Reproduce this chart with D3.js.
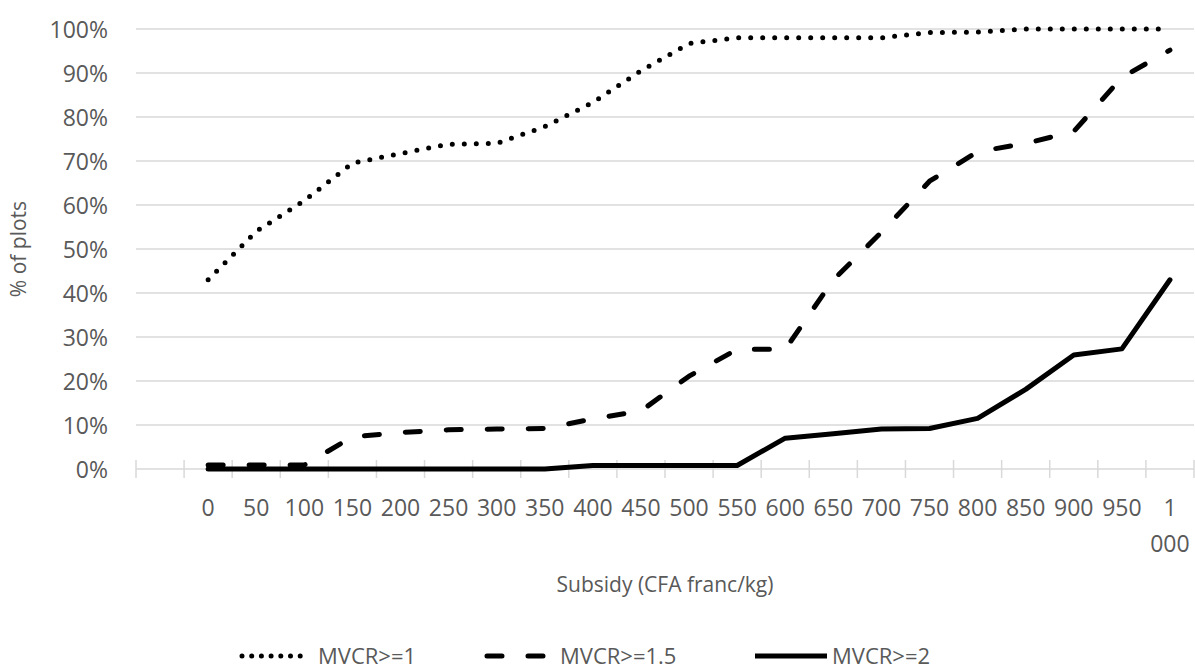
<!DOCTYPE html>
<html>
<head>
<meta charset="utf-8">
<script src="https://cdn.jsdelivr.net/npm/d3@7"></script>
<style>
  body { margin: 0; background: #fff; }
  svg text { font-family: "Open Sans", sans-serif; fill: #595959; }
</style>
</head>
<body>
<svg id="chart"></svg>
<script>
// categories on the x axis (first slot is an empty category, as in the original sheet)
let categories = ["", "0", "50", "100", "150", "200", "250", "300", "350", "400", "450", "500",
    "550", "600", "650", "700", "750", "800", "850", "900", "950", "1000"];
let tickLabels = ["", "0", "50", "100", "150", "200", "250", "300", "350", "400", "450", "500",
    "550", "600", "650", "700", "750", "800", "850", "900", "950", "1 000"];
let subsidy = ["0", "50", "100", "150", "200", "250", "300", "350", "400", "450", "500",
    "550", "600", "650", "700", "750", "800", "850", "900", "950", "1000"];

// % of plots
let mvcr1  = [43, 54, 61, 69.5, 71.7, 73.8, 74, 77.8, 83.3, 90.5, 96.7, 98, 98, 98, 98, 99.2, 99.3, 100, 100, 100, 100];
let mvcr15 = [0.9, 0.9, 0.9, 7.3, 8.3, 8.9, 9.1, 9.2, 11.4, 13.2, 21.1, 27.2, 27.2, 43, 53.8, 65.4, 72.1, 74, 76.7, 89, 95.2];
let mvcr2  = [0, 0, 0, 0, 0, 0, 0, 0, 0.8, 0.8, 0.8, 0.8, 7, 8, 9.1, 9.2, 11.5, 18.1, 25.9, 27.3, 43];

let seriesNames = ["MVCR>=1", "MVCR>=1.5", "MVCR>=2"];
let yTicks = [0, 10, 20, 30, 40, 50, 60, 70, 80, 90, 100];

let width = 1195, height = 672;
let plotLeft = 136, plotRight = 1194, plotTop = 29, plotBottom = 469;

let svg = d3.select("#chart")
    .attr("width", width)
    .attr("height", height);

let x = d3.scaleBand()
    .domain(categories)
    .range([plotLeft, plotRight])
    .padding(0);
let y = d3.scaleLinear()
    .domain([0, 100])
    .range([plotBottom, plotTop]);

let cx = c => x(c) + x.bandwidth() / 2;

// gridlines
svg.append("g")
    .selectAll("line")
    .data(yTicks)
    .join("line")
    .attr("x1", plotLeft)
    .attr("x2", plotRight)
    .attr("y1", d => y(d))
    .attr("y2", d => y(d))
    .attr("stroke", "#d9d9d9")
    .attr("stroke-width", 1.5);

// y axis labels
let yAxis = svg.append("g")
    .attr("transform", `translate(${plotLeft},0)`)
    .call(d3.axisLeft(y).tickValues(yTicks).tickFormat(d => d + "%").tickSize(0).tickPadding(28));
yAxis.select(".domain").remove();
yAxis.selectAll("text")
    .attr("fill", null)
    .style("font-family", null)
    .style("font-size", "23px")
    .attr("dy", "0.35em");

// x axis cross tick marks at category boundaries
let bounds = categories.map(c => x(c)).concat([plotRight]);
svg.append("g")
    .selectAll("line")
    .data(bounds)
    .join("line")
    .attr("x1", d => d)
    .attr("x2", d => d)
    .attr("y1", plotBottom - 9)
    .attr("y2", plotBottom + 9)
    .attr("stroke", "#d9d9d9")
    .attr("stroke-width", 1.5);

// x axis labels ("1 000" wraps onto two lines)
let xLabels = svg.append("g")
    .selectAll("text")
    .data(categories)
    .join("text")
    .attr("x", d => cx(d))
    .attr("y", 516)
    .attr("text-anchor", "middle")
    .style("font-size", "23px");
xLabels.each(function(d, i) {
    let parts = tickLabels[i].split(" ");
    d3.select(this).selectAll("tspan")
        .data(parts)
        .join("tspan")
        .attr("x", cx(d))
        .attr("dy", (p, j) => j === 0 ? 0 : 36)
        .text(p => p);
});

// axis titles
svg.append("text")
    .attr("x", (plotLeft + plotRight) / 2)
    .attr("y", 592)
    .attr("text-anchor", "middle")
    .style("font-size", "21px")
    .text("Subsidy (CFA franc/kg)");
svg.append("text")
    .attr("transform", "translate(26,249) rotate(-90)")
    .attr("text-anchor", "middle")
    .style("font-size", "21px")
    .text("% of plots");

// lines
let styles = [
    { dash: "0 12", legendDash: "0 9.7" },
    { dash: "15 26", legendDash: "15 26" },
    { dash: null, legendDash: null }
];
let allSeries = [mvcr1, mvcr15, mvcr2];

let line = d3.line()
    .x((d, i) => cx(subsidy[i]))
    .y(d => y(d));

svg.append("g")
    .selectAll("path")
    .data(allSeries)
    .join("path")
    .attr("d", d => line(d))
    .attr("fill", "none")
    .attr("stroke", "#000")
    .attr("stroke-width", 5)
    .attr("stroke-linecap", "round")
    .attr("stroke-linejoin", "round")
    .attr("stroke-dasharray", (d, i) => styles[i].dash);

// legend
let legendX = [242, 487, 755];
let legendY = 656;
let legend = svg.append("g")
    .selectAll("g")
    .data(seriesNames)
    .join("g")
    .attr("transform", (d, i) => `translate(${legendX[i]},${legendY})`);
legend.append("line")
    .attr("x1", 0)
    .attr("x2", (d, i) => i === 2 ? 72 : 66)
    .attr("stroke", "#000")
    .attr("stroke-width", 5)
    .attr("stroke-linecap", (d, i) => i === 2 ? "butt" : "round")
    .attr("stroke-dasharray", (d, i) => styles[i].legendDash);
legend.append("text")
    .attr("x", (d, i) => [76, 73, 77][i])
    .attr("y", 0)
    .attr("dy", "0.35em")
    .style("font-size", "22px")
    .text(d => d);
</script>
</body>
</html>
